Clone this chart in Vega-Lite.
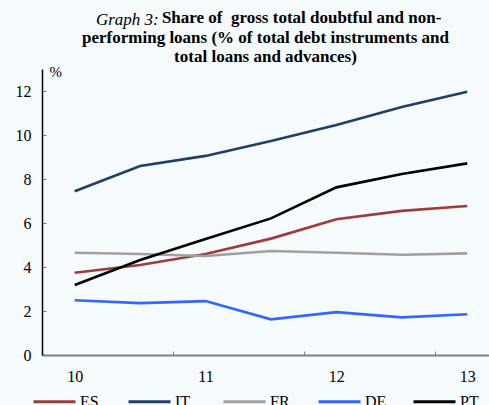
{
  "$schema": "https://vega.github.io/schema/vega-lite/v6.json",
  "width": 447,
  "height": 286,
  "autosize": {"type": "none"},
  "padding": {"left": 42, "top": 69, "right": 0, "bottom": 50},
  "background": "#F5FAFD",
  "title": {
    "text": ["\u200b\u00a0\u00a0\u00a0\u00a0\u00a0\u00a0\u00a0\u00a0\u00a0\u00a0\u00a0\u00a0\u00a0\u00a0\u00a0\u00a0\u00a0Share of\u00a0 gross total doubtful and non-", "performing loans (% of total debt instruments and", "total loans and advances)"],
    "subtitle": ["Graph 3:\u00a0\u00a0\u00a0\u00a0\u00a0\u00a0\u00a0\u00a0\u00a0\u00a0\u00a0\u00a0\u00a0\u00a0\u00a0\u00a0\u00a0\u00a0\u00a0\u00a0\u00a0\u00a0\u00a0\u00a0\u00a0\u00a0\u00a0\u00a0\u00a0\u00a0\u00a0\u00a0\u00a0\u00a0\u00a0\u00a0\u00a0\u00a0\u00a0\u00a0\u00a0\u00a0\u00a0\u00a0\u00a0\u00a0\u00a0\u00a0\u00a0\u00a0\u00a0\u00a0\u00a0\u00a0\u00a0\u00a0\u00a0\u00a0\u00a0\u00a0\u00a0\u00a0\u00a0\u00a0\u00a0\u200b"],
    "font": "'Liberation Serif', 'Times New Roman', serif",
    "fontSize": 17,
    "fontWeight": "bold",
    "color": "#000000",
    "lineHeight": 19.5,
    "subtitleFont": "'Liberation Serif', 'Times New Roman', serif",
    "subtitleFontSize": 17,
    "subtitleFontStyle": "italic",
    "subtitleFontWeight": "normal",
    "subtitleColor": "#000000",
    "subtitlePadding": -54,
    "anchor": "middle",
    "offset": -2
  },
  "data": {
    "values": [
      {"t": 0, "country": "ES", "value": 3.74},
      {"t": 1, "country": "ES", "value": 4.09},
      {"t": 2, "country": "ES", "value": 4.59},
      {"t": 3, "country": "ES", "value": 5.29},
      {"t": 4, "country": "ES", "value": 6.17},
      {"t": 5, "country": "ES", "value": 6.55},
      {"t": 6, "country": "ES", "value": 6.77},
      {"t": 0, "country": "IT", "value": 7.44},
      {"t": 1, "country": "IT", "value": 8.59},
      {"t": 2, "country": "IT", "value": 9.05},
      {"t": 3, "country": "IT", "value": 9.73},
      {"t": 4, "country": "IT", "value": 10.45},
      {"t": 5, "country": "IT", "value": 11.27},
      {"t": 6, "country": "IT", "value": 11.97},
      {"t": 0, "country": "FR", "value": 4.65},
      {"t": 1, "country": "FR", "value": 4.59},
      {"t": 2, "country": "FR", "value": 4.5},
      {"t": 3, "country": "FR", "value": 4.73},
      {"t": 4, "country": "FR", "value": 4.65},
      {"t": 5, "country": "FR", "value": 4.56},
      {"t": 6, "country": "FR", "value": 4.62},
      {"t": 0, "country": "DE", "value": 2.49},
      {"t": 1, "country": "DE", "value": 2.36},
      {"t": 2, "country": "DE", "value": 2.45},
      {"t": 3, "country": "DE", "value": 1.62},
      {"t": 4, "country": "DE", "value": 1.95},
      {"t": 5, "country": "DE", "value": 1.71},
      {"t": 6, "country": "DE", "value": 1.85},
      {"t": 0, "country": "PT", "value": 3.18},
      {"t": 1, "country": "PT", "value": 4.32},
      {"t": 2, "country": "PT", "value": 5.27},
      {"t": 3, "country": "PT", "value": 6.21},
      {"t": 4, "country": "PT", "value": 7.62},
      {"t": 5, "country": "PT", "value": 8.23},
      {"t": 6, "country": "PT", "value": 8.71}
    ]
  },
  "mark": {"type": "line", "strokeWidth": 2.6, "clip": false},
  "encoding": {
    "x": {
      "field": "t",
      "type": "quantitative",
      "scale": {"domain": [-0.5, 6.333], "nice": false, "zero": false},
      "axis": {
        "values": [-0.5, 1.5, 3.5, 5.5],
        "labelExpr": "format((datum.value + 0.5) / 2 + 10, 'd')",
        "labelOffset": 32.7,
        "title": null,
        "grid": false,
        "domainColor": "#808080",
        "domainWidth": 2,
        "tickColor": "#808080",
        "tickSize": -4,
        "tickWidth": 1,
        "labelPadding": 17,
        "labelFont": "'Liberation Serif', 'Times New Roman', serif",
        "labelFontSize": 16,
        "labelColor": "#000000",
        "labelFlush": false,
        "labelOverlap": false
      }
    },
    "y": {
      "field": "value",
      "type": "quantitative",
      "scale": {"domain": [0, 13], "nice": false},
      "axis": {
        "values": [0, 2, 4, 6, 8, 10, 12],
        "grid": false,
        "domainColor": "#000000",
        "domainWidth": 1.5,
        "tickColor": "#808080",
        "tickSize": -4,
        "tickWidth": 1,
        "labelPadding": 15,
        "labelFont": "'Liberation Serif', 'Times New Roman', serif",
        "labelFontSize": 16,
        "labelColor": "#000000",
        "title": "%",
        "titleAngle": 0,
        "titleX": 7,
        "titleY": 7,
        "titleAlign": "left",
        "titleBaseline": "alphabetic",
        "titleFont": "'Liberation Serif', 'Times New Roman', serif",
        "titleFontSize": 15,
        "titleFontWeight": "normal",
        "titleColor": "#000000"
      }
    },
    "color": {
      "field": "country",
      "type": "nominal",
      "scale": {
        "domain": ["ES", "IT", "FR", "DE", "PT"],
        "range": ["#9E3B3B", "#1F3F68", "#A0A0A0", "#3366FF", "#000000"]
      },
      "legend": {
        "title": null,
        "orient": "none",
        "direction": "horizontal",
        "legendX": -10,
        "legendY": 310,
        "symbolType": "stroke",
        "symbolSize": 1764,
        "symbolStrokeWidth": 3,
        "labelFont": "'Liberation Serif', 'Times New Roman', serif",
        "labelFontSize": 16,
        "labelColor": "#000000",
        "labelOffset": 3,
        "columnPadding": 20,
        "gridAlign": "all"
      }
    }
  },
  "config": {"view": {"stroke": null}}
}
